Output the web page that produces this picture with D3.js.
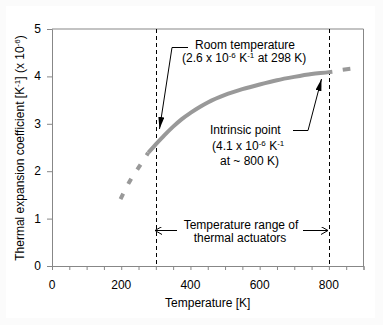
<!DOCTYPE html>
<html><head><meta charset="utf-8">
<script src="https://cdn.jsdelivr.net/npm/d3@7"></script>
<style>
html,body{margin:0;padding:0;background:#fbfbfb;}
svg{display:block;font-family:"Liberation Sans",Arial,sans-serif;}
</style></head>
<body>
<script>
// Data
const tempLow  = [198, 225.5, 252.4, 278];
const alphaLow = [1.41, 1.80, 2.10, 2.39];
const tempMain  = [278, 298, 325, 350, 375, 400, 428, 450, 500, 550, 600, 650, 700, 750, 800, 810];
const alphaMain = [2.39, 2.55, 2.76, 2.94, 3.10, 3.23, 3.36, 3.45, 3.61, 3.73, 3.83, 3.92, 3.99, 4.05, 4.09, 4.10];
const tempHigh  = [840, 862];
const alphaHigh = [4.14, 4.16];
const xTickLabels = [0, 200, 400, 600, 800];
const yTickLabels = [0, 1, 2, 3, 4, 5];
const markerTemps = [300, 800];

const W = 383, H = 325;
const svg = d3.select("body").append("svg").attr("width", W).attr("height", H);
svg.append("rect").attr("x",6).attr("y",6).attr("width",369).attr("height",312).attr("fill","#fff");

const x = d3.scaleLinear().domain([0, 900]).range([52, 363.5]);
const y = d3.scaleLinear().domain([0, 5]).range([266, 29]);
const axisColor = "#878787";

// frame top/right
svg.append("line").attr("x1",x(0)).attr("x2",x(900)).attr("y1",y(5)).attr("y2",y(5)).attr("stroke",axisColor);
svg.append("line").attr("x1",x(900)).attr("x2",x(900)).attr("y1",y(5)).attr("y2",y(0)).attr("stroke",axisColor);

// axes
const xAxis = d3.axisBottom(x).tickValues(d3.range(0, 901, 50)).tickSize(4).tickFormat("");
const gx = svg.append("g").attr("transform",`translate(0,${y(0)})`).call(xAxis);
const yAxis = d3.axisLeft(y).tickValues(yTickLabels).tickSize(5).tickFormat("");
const gy = svg.append("g").attr("transform",`translate(${x(0)},0)`).call(yAxis);
[gx, gy].forEach(g => {
  g.select(".domain").attr("stroke",axisColor);
  g.selectAll(".tick line").attr("stroke",axisColor);
});

svg.selectAll(".xl").data(xTickLabels).enter().append("text")
  .attr("x", d => x(d)).attr("y", 289).attr("text-anchor","middle")
  .attr("font-size",12).text(d => d);
svg.selectAll(".yl").data(yTickLabels).enter().append("text")
  .attr("x", 41).attr("y", d => y(d) + 4).attr("text-anchor","end")
  .attr("font-size",12).text(d => d);

svg.append("text").attr("x", x(450)).attr("y", 307).attr("text-anchor","middle")
  .attr("font-size",12).text("Temperature [K]");

const yl = svg.append("text").attr("transform","translate(24,148) rotate(-90)")
  .attr("text-anchor","middle").attr("font-size",12);
yl.append("tspan").text("Thermal expansion coefficient [K");
yl.append("tspan").attr("dy",-4).attr("font-size",8).text("-1");
yl.append("tspan").attr("dy",4).text("]  (x 10");
yl.append("tspan").attr("dy",-4).attr("font-size",8).text("-6");
yl.append("tspan").attr("dy",4).text(")");

// dashed vertical lines
svg.selectAll(".vl").data(markerTemps).enter().append("line")
  .attr("x1", d => Math.round(x(d)) + 0.5).attr("x2", d => Math.round(x(d)) + 0.5)
  .attr("y1", y(5)).attr("y2", y(0))
  .attr("stroke","#000").attr("stroke-dasharray","4,3");

// curve
const line = d3.line().x(d => x(d[0])).y(d => y(d[1])).curve(d3.curveMonotoneX);
const curveColor = "#999999";
svg.append("path").datum(tempLow.map((t,i)=>[t, alphaLow[i]])).attr("d", line)
  .attr("fill","none").attr("stroke",curveColor).attr("stroke-width",4).attr("stroke-dasharray","6,11");
svg.append("path").datum(tempMain.map((t,i)=>[t, alphaMain[i]])).attr("d", line)
  .attr("fill","none").attr("stroke",curveColor).attr("stroke-width",4);
svg.append("path").datum(tempHigh.map((t,i)=>[t, alphaHigh[i]])).attr("d", line)
  .attr("fill","none").attr("stroke",curveColor).attr("stroke-width",4);

// markers
const defs = svg.append("defs");
defs.append("marker").attr("id","fa").attr("viewBox","0 0 12 6").attr("refX",12).attr("refY",3)
  .attr("markerWidth",12).attr("markerHeight",6).attr("markerUnits","userSpaceOnUse").attr("orient","auto")
  .append("path").attr("d","M0,0L12,3L0,6Z").attr("fill","#000");
defs.append("marker").attr("id","oa").attr("viewBox","0 0 7 8").attr("refX",7).attr("refY",4)
  .attr("markerWidth",7).attr("markerHeight",8).attr("markerUnits","userSpaceOnUse").attr("orient","auto")
  .append("path").attr("d","M0,0L7,4L0,8").attr("fill","none").attr("stroke","#000");

// Room temperature annotation
svg.append("path").attr("d","M188,47.5H172L159.5,129").attr("fill","none").attr("stroke","#000").attr("marker-end","url(#fa)");
svg.append("text").attr("x",195).attr("y",49).attr("font-size",12).text("Room temperature");
const rt = svg.append("text").attr("x",182).attr("y",62).attr("font-size",12);
rt.append("tspan").text("(2.6 x 10");
rt.append("tspan").attr("dy",-4).attr("font-size",8).text("-6");
rt.append("tspan").attr("dy",4).text(" K");
rt.append("tspan").attr("dy",-4).attr("font-size",8).text("-1");
rt.append("tspan").attr("dy",4).text(" at 298 K)");

// Intrinsic point annotation
svg.append("path").attr("d","M293,130.5H308L321.5,79").attr("fill","none").attr("stroke","#000").attr("marker-end","url(#fa)");
svg.append("text").attr("x",210).attr("y",134).attr("font-size",12).text("Intrinsic point");
const ip = svg.append("text").attr("x",212).attr("y",150).attr("font-size",12);
ip.append("tspan").text("(4.1 x 10");
ip.append("tspan").attr("dy",-4).attr("font-size",8).text("-6");
ip.append("tspan").attr("dy",4).text(" K");
ip.append("tspan").attr("dy",-4).attr("font-size",8).text("-1");
svg.append("text").attr("x",220).attr("y",165).attr("font-size",12).text("at ~ 800 K)");

// Temperature range annotation
svg.append("text").attr("x",241).attr("y",229).attr("text-anchor","middle").attr("font-size",12).text("Temperature range of");
svg.append("text").attr("x",240).attr("y",242).attr("text-anchor","middle").attr("font-size",12).text("thermal actuators");
svg.append("line").attr("x1",177).attr("x2",155).attr("y1",230.5).attr("y2",230.5).attr("stroke","#000").attr("marker-end","url(#oa)");
svg.append("line").attr("x1",303).attr("x2",328).attr("y1",230.5).attr("y2",230.5).attr("stroke","#000").attr("marker-end","url(#oa)");
</script>
</body></html>
